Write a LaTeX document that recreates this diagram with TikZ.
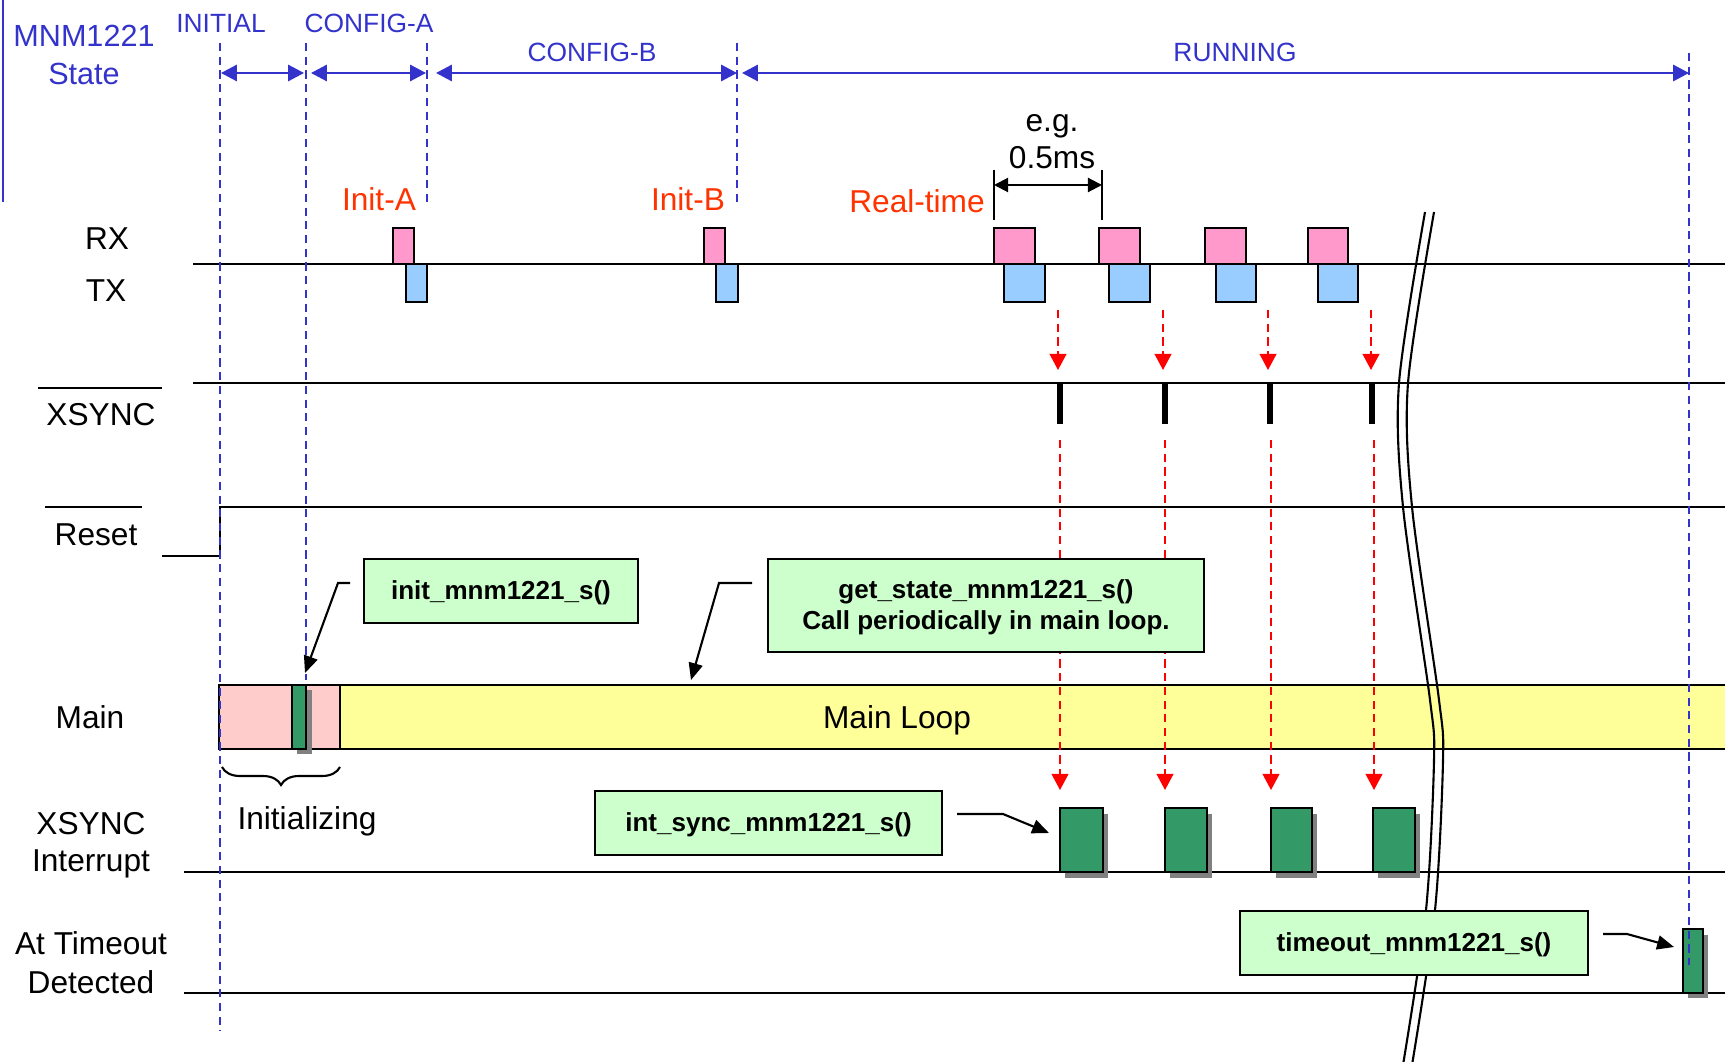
\documentclass[tikz,border=0pt]{standalone}
\usepackage{fontspec}
\setmainfont{Liberation Sans}
\usetikzlibrary{arrows.meta,decorations.pathreplacing}

\definecolor{stateblue}{RGB}{51,51,204}
\definecolor{labelred}{RGB}{255,51,0}
\definecolor{rxpink}{RGB}{255,153,204}
\definecolor{txblue}{RGB}{153,204,255}
\definecolor{callgreen}{RGB}{204,255,204}
\definecolor{taskgreen}{RGB}{51,153,102}
\definecolor{initpink}{RGB}{255,204,204}
\definecolor{loopyellow}{RGB}{255,255,153}
\definecolor{shadowgray}{RGB}{128,128,128}

\tikzstyle{callbox} = [
	draw = black,
	fill = callgreen,
	line width = 0.6pt,
	text depth = 0.05em,
	font = \fontsize{7.4}{9}\selectfont\bfseries
	]
\tikzstyle{taskblock} = [
	draw = black,
	fill = taskgreen,
	line width = 0.6pt
	]

\begin{document}
\begin{tikzpicture}[
	x = 0.01cm,
	y = -0.01cm,
	line width = 0.6pt,
	every node/.style = {
	inner sep = 0pt,
	align = center,
	font = \fontsize{9}{10.5}\selectfont
	},
	statetext/.style = {
	text = stateblue,
	font = \fontsize{7.5}{9}\selectfont
	},
	phase/.style = {
	stateblue, <->, >={Triangle[length=4.5pt,width=4.6pt]}
	},
	bound/.style = {
	stateblue, line width = 0.45pt,
	dash pattern = on 2.3pt off 1.6pt
	},
	trigger/.style = {
	red, line width = 0.45pt,
	dash pattern = on 2.3pt off 1.6pt,
	->, >={Triangle[length=4.6pt,width=4.8pt]}
	},
	callout/.style = {
	->, >={Triangle[length=4.8pt,width=4pt]}
	}
	]

	\useasboundingbox (0,0) rectangle (1725,1061);

	% state bar
	\draw[stateblue] (3,0) -- (3,202);
	\node[statetext, font=\fontsize{8.7}{10.8}\selectfont] (chip) at (84,55) {MNM1221\\State};
	\node[statetext, anchor=base] (initial) at (221,33) {INITIAL};
	\node[statetext, anchor=base] (configa) at (369,33) {CONFIG-A};
	\node[statetext, anchor=base] (configb) at (592,62) {CONFIG-B};
	\node[statetext, anchor=base] (running) at (1235,62) {RUNNING};

	\draw[phase] (221,73) -- (304,73);
	\draw[phase] (311,73) -- (426,73);
	\draw[phase] (436,73) -- (737,73);
	\draw[phase] (742,73) -- (1689,73);

	% signal names
	\node[anchor=base] (rx) at (107,250) {RX};
	\node[anchor=base] (tx) at (106,302) {TX};
	\node[anchor=base] (xsync) at (101,425) {XSYNC};
	\node[anchor=base] (reset) at (96,545) {Reset};
	\node[anchor=base] (main) at (90,728) {Main};
	\node[font=\fontsize{9}{10.6}\selectfont] (xsyncirq) at (91,845) {XSYNC\\Interrupt};
	\node[font=\fontsize{9}{11}\selectfont] (timeout) at (91,963) {At Timeout\\Detected};
	\draw (38,388) -- (162,388);
	\draw (45,507) -- (142,507);

	% signal lines
	\draw (193,264) -- (1725,264);
	\draw (193,383) -- (1725,383);
	\draw (162,556) -- (220,556) -- (220,507) -- (1725,507);
	\draw (184,872) -- (1725,872);
	\draw (184,993) -- (1725,993);

	% RX / TX frames
	\node[anchor=base, text=labelred] (inita) at (379,211) {Init-A};
	\node[anchor=base, text=labelred] (initb) at (688,211) {Init-B};
	\node[anchor=base, text=labelred] (realtime) at (917,213) {Real-time};
	\draw[fill=rxpink] (393,228) rectangle (414,264);
	\draw[fill=txblue] (406,264) rectangle (427,302);
	\draw[fill=rxpink] (704,228) rectangle (725,264);
	\draw[fill=txblue] (716,264) rectangle (738,302);

	\draw[fill=rxpink] (994,228) rectangle (1035,264);
	\draw[fill=rxpink] (1099,228) rectangle (1140,264);
	\draw[fill=rxpink] (1205,228) rectangle (1246,264);
	\draw[fill=rxpink] (1308,228) rectangle (1348,264);
	\draw[fill=txblue] (1004,264) rectangle (1045,302);
	\draw[fill=txblue] (1109,264) rectangle (1150,302);
	\draw[fill=txblue] (1216,264) rectangle (1256,302);
	\draw[fill=txblue] (1318,264) rectangle (1358,302);

	% period
	\node[font=\fontsize{9}{10.5}\selectfont] (period) at (1052,142) {e.g.\\0.5ms};
	\draw (994,170) -- (994,220);
	\draw (1102,170) -- (1102,220);
	\draw[<->, >={Triangle[length=4pt,width=4pt]}] (994,185) -- (1102,185);

	% XSYNC pulses
	\draw[line width=1.7pt] (1060,383) -- (1060,424);
	\draw[line width=1.7pt] (1165,383) -- (1165,424);
	\draw[line width=1.7pt] (1270,383) -- (1270,424);
	\draw[line width=1.7pt] (1372,383) -- (1372,424);

	% main task
	\draw[fill=initpink] (219,685) rectangle (340,749);
	\draw[fill=loopyellow] (340,685) rectangle (1740,749);
	\node[anchor=base] (mainloop) at (897,728) {Main Loop};
	\fill[shadowgray] (297,690) rectangle (312,754);
	\draw[taskblock] (292,685) rectangle (306,749);
	\draw[decorate, decoration={brace, amplitude=0.18cm}] (340,767) -- (222,767);
	\node[anchor=base] (initializing) at (307,829) {Initializing};

	% interrupt tasks
	\fill[shadowgray] (1065,814) rectangle (1108,878);
	\draw[taskblock] (1060,808) rectangle (1103,872);
	\fill[shadowgray] (1170,814) rectangle (1212,878);
	\draw[taskblock] (1165,808) rectangle (1207,872);
	\fill[shadowgray] (1276,814) rectangle (1317,878);
	\draw[taskblock] (1271,808) rectangle (1312,872);
	\fill[shadowgray] (1378,814) rectangle (1420,878);
	\draw[taskblock] (1373,808) rectangle (1415,872);
	\fill[shadowgray] (1688,935) rectangle (1708,998);
	\draw[taskblock] (1683,929) rectangle (1703,993);

	% state boundaries
	\draw[bound] (220,43) -- (220,1031);
	\draw[bound] (306,43) -- (306,680);
	\draw[bound] (427,43) -- (427,205);
	\draw[bound] (737,43) -- (737,205);
	\draw[bound] (1689,53) -- (1689,965);

	% triggers
	\draw[trigger] (1058,310) -- (1058,370);
	\draw[trigger] (1163,310) -- (1163,370);
	\draw[trigger] (1268,310) -- (1268,370);
	\draw[trigger] (1371,310) -- (1371,370);
	\draw[trigger] (1060,440) -- (1060,790);
	\draw[trigger] (1165,440) -- (1165,790);
	\draw[trigger] (1271,440) -- (1271,790);
	\draw[trigger] (1374,440) -- (1374,790);

	% time break
	\draw plot[smooth] coordinates {(1425,212) (1399,383) (1403,507) (1430,700) (1434,760) (1426,910) (1403,1065)};
	\draw[xshift=0.09cm] plot[smooth] coordinates {(1425,212) (1399,383) (1403,507) (1430,700) (1434,760) (1426,910) (1403,1065)};

	% API calls
	\node[callbox, minimum width=2.74cm, minimum height=0.64cm] (initcall) at (501,591) {init\_mnm1221\_s()};
	\node[callbox, minimum width=4.36cm, minimum height=0.93cm] (statecall) at (986,605.5) {get\_state\_mnm1221\_s()\\Call periodically in main loop.};
	\node[callbox, minimum width=3.47cm, minimum height=0.64cm] (synccall) at (768.5,823) {int\_sync\_mnm1221\_s()};
	\node[callbox, minimum width=3.48cm, minimum height=0.64cm] (timecall) at (1414,943) {timeout\_mnm1221\_s()};

	\coordinate (initfrom) at (350,583);
	\coordinate (initbend) at (338,583);
	\coordinate (inittip) at (305,673);
	\coordinate (statefrom) at (752,583);
	\coordinate (statebend) at (719,583);
	\coordinate (statetip) at (691,680);
	\coordinate (syncfrom) at (957,814);
	\coordinate (syncbend) at (1003,814);
	\coordinate (synctip) at (1049,833);
	\coordinate (timefrom) at (1603,934);
	\coordinate (timebend) at (1627,934);
	\coordinate (timetip) at (1674,947);

	\draw[callout] (initfrom) -- (initbend) -- (inittip);
	\draw[callout] (statefrom) -- (statebend) -- (statetip);
	\draw[callout] (syncfrom) -- (syncbend) -- (synctip);
	\draw[callout] (timefrom) -- (timebend) -- (timetip);
\end{tikzpicture}
\end{document}
